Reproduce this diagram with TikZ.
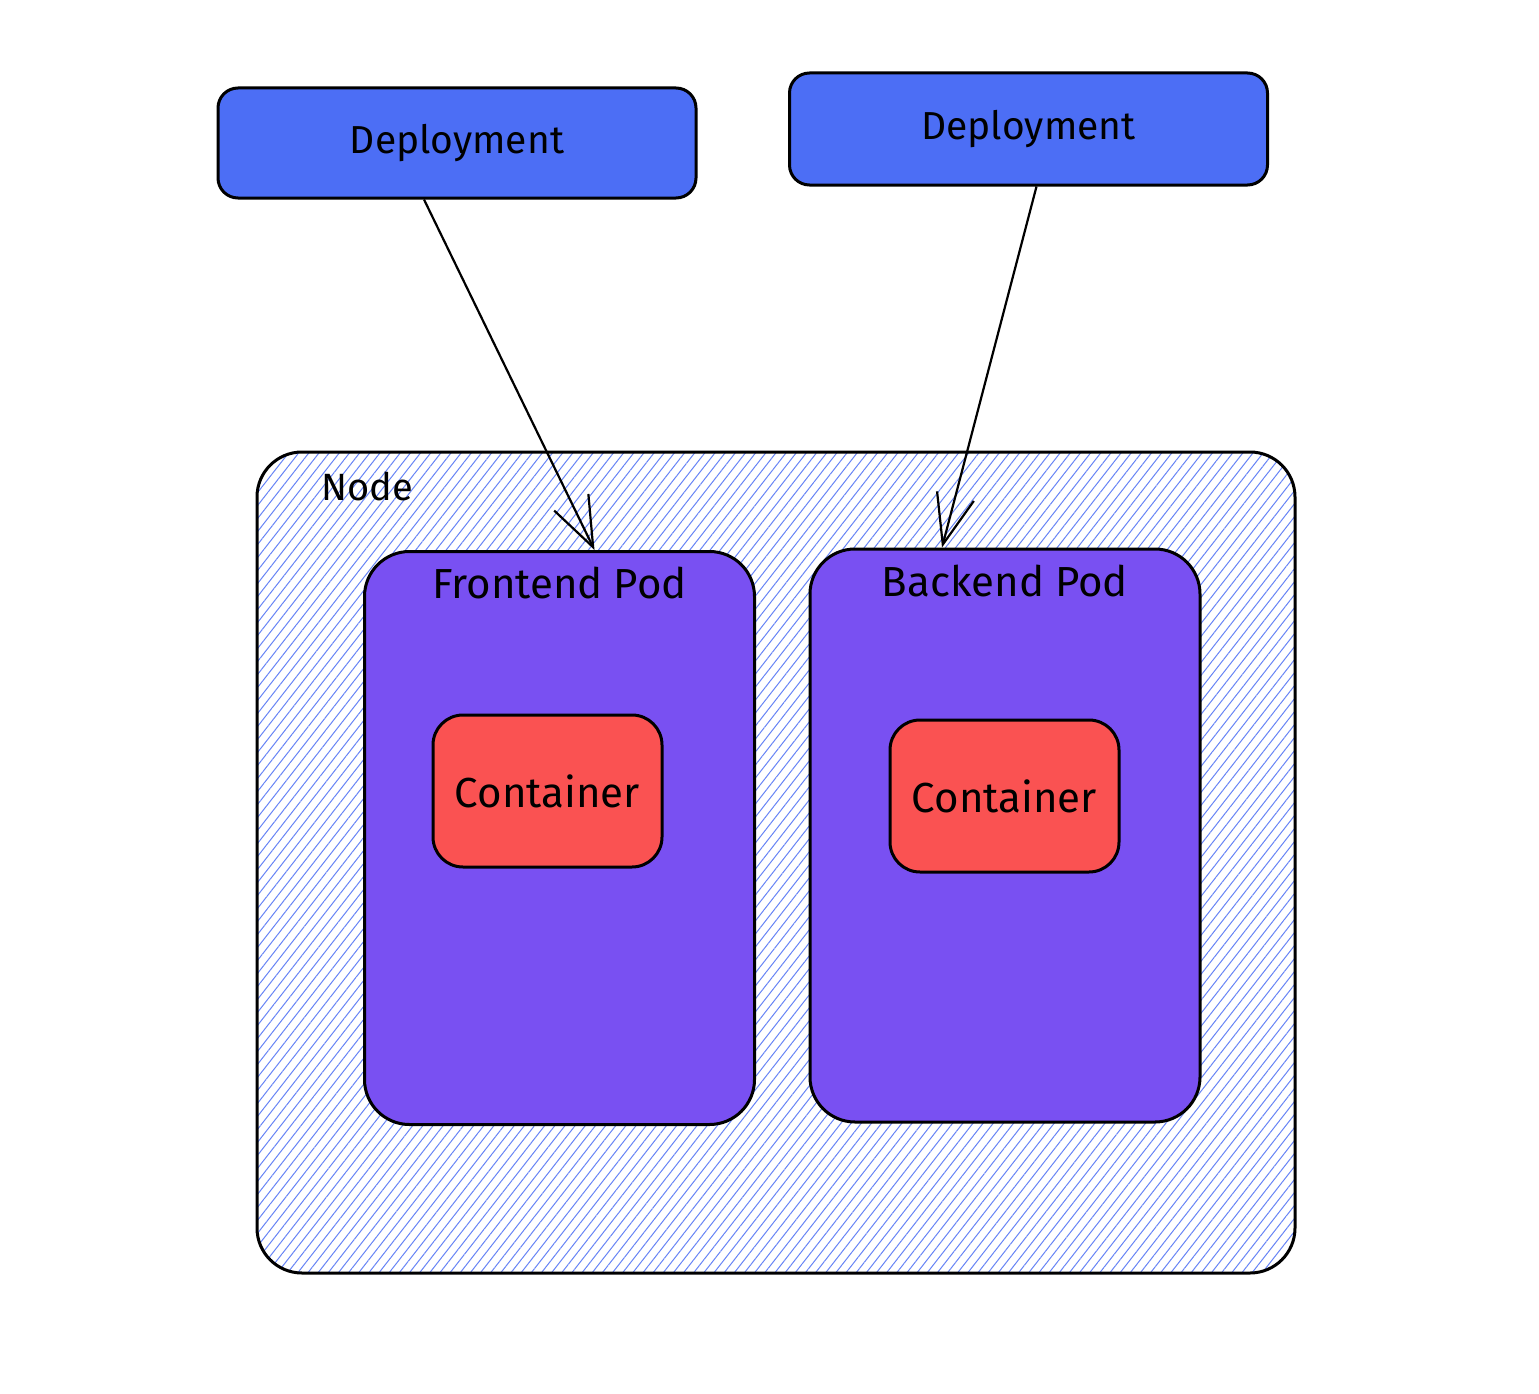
\documentclass[tikz,border=0pt]{standalone}
\usepackage{fontspec}
\setmainfont{Fira Sans}
\usetikzlibrary{arrows.meta,patterns.meta,positioning}
\definecolor{bleu}{HTML}{4C6EF5}
\definecolor{violet}{HTML}{7950F2}
\definecolor{rouge}{HTML}{FA5252}
\begin{document}
\begin{tikzpicture}[x=1pt, y=-1pt, line width=3pt]
  \tikzstyle{deploiement}=[draw, fill=bleu, rounded corners=20pt, minimum width=478pt, minimum height=110pt, font=\fontsize{39}{44}\selectfont];
  \tikzstyle{noeud}=[draw, rounded corners=45pt, minimum width=1038pt, minimum height=821pt, pattern={Lines[angle=52, distance=8pt, line width=1pt]}, pattern color=bleu!85];
  \tikzstyle{pod}=[draw, fill=violet, rounded corners=45pt, minimum width=390pt, minimum height=573pt];
  \tikzstyle{conteneur}=[draw, fill=rouge, rounded corners=30pt, minimum width=229pt, minimum height=152pt, font=\fontsize{42}{46}\selectfont];
  \tikzstyle{titre}=[inner sep=0, font=\fontsize{42}{46}\selectfont];
  \tikzstyle{fleche}=[line width=2.2pt, -{Straight Barb[length=50pt, width=38pt, line width=2.2pt]}];

  \fill[white] (0,0) rectangle (1539,1394);
  \useasboundingbox (0,0) rectangle (1539,1394);

  \node[noeud] (N) at (776, 862.5) {};
  \node[titre, font=\fontsize{38}{42}\selectfont] (Nt) at ([xshift=111pt, yshift=-35pt]N.north west) {Node};

  \node[deploiement] (D1) at (457, 143) {Deployment};
  \node[deploiement, minimum height=112pt] (D2) at (1028.5, 129) {Deployment};

  \node[pod] (FP) at (559.5, 838) {};
  \node[pod] (BP) at (1005, 835.5) {};
  \node[titre] (FPt) at ([yshift=-33pt]FP.north) {Frontend Pod};
  \node[titre] (BPt) at ([yshift=-33pt]BP.north) {Backend Pod};

  \node[conteneur] (C1) at (547.5, 791) {Container};
  \node[conteneur] (C2) at (1004.5, 796) {Container};

  \draw[fleche] ([xshift=-33pt]D1.south) -- ([xshift=35pt]FP.north);
  \draw[fleche] ([xshift=8pt]D2.south) -- ([xshift=-63pt]BP.north);
\end{tikzpicture}
\end{document}
